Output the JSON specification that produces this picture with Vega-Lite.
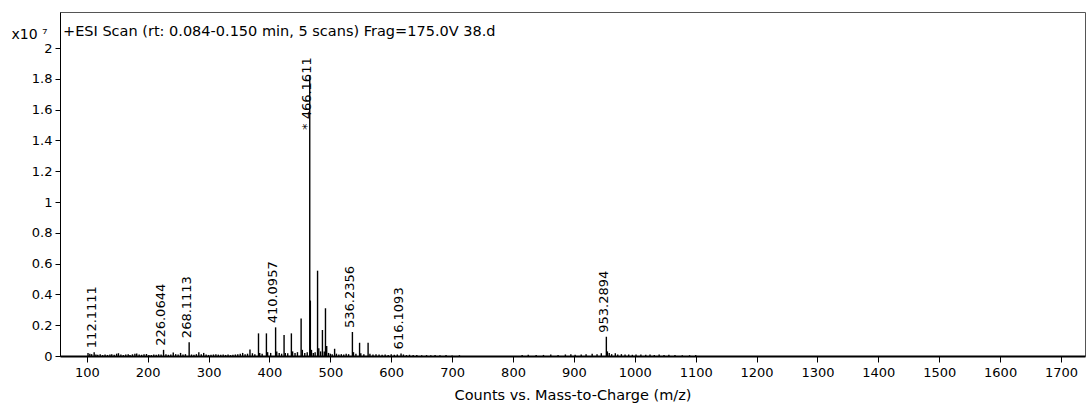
{
  "$schema": "https://vega.github.io/schema/vega-lite/v6.json",
  "width": 1025,
  "height": 344,
  "autosize": {"type": "none"},
  "padding": {"left": 60, "top": 12, "right": 1, "bottom": 51},
  "background": "white",
  "config": {
    "font": "DejaVu Sans",
    "view": {"stroke": "#555", "strokeWidth": 1},
    "axis": {"grid": false, "labelColor": "#000", "titleColor": "#000", "labelFont": "DejaVu Sans", "titleFont": "DejaVu Sans"}
  },
  "title": {
    "text": "+ESI Scan (rt: 0.084-0.150 min, 5 scans) Frag=175.0V 38.d",
    "anchor": "start",
    "frame": "group",
    "orient": "top",
    "offset": -38,
    "baseline": "alphabetic",
    "dx": 3,
    "font": "DejaVu Sans",
    "fontSize": 14.5,
    "fontWeight": "normal",
    "color": "#000"
  },
  "data": {
    "values": [
      {"mz": 102, "i": 0.02}, {"mz": 105, "i": 0.015}, {"mz": 108, "i": 0.012},
      {"mz": 112.1111, "i": 0.025, "lab": 1}, {"mz": 115, "i": 0.01}, {"mz": 118, "i": 0.008},
      {"mz": 122, "i": 0.012}, {"mz": 126, "i": 0.006}, {"mz": 130, "i": 0.01}, {"mz": 134, "i": 0.007},
      {"mz": 138, "i": 0.009}, {"mz": 141, "i": 0.012}, {"mz": 145, "i": 0.008}, {"mz": 149, "i": 0.015},
      {"mz": 152, "i": 0.018}, {"mz": 156, "i": 0.01}, {"mz": 160, "i": 0.006}, {"mz": 164, "i": 0.009},
      {"mz": 168, "i": 0.012}, {"mz": 171, "i": 0.007}, {"mz": 175, "i": 0.011}, {"mz": 179, "i": 0.014},
      {"mz": 182, "i": 0.016}, {"mz": 186, "i": 0.009}, {"mz": 190, "i": 0.008}, {"mz": 194, "i": 0.012},
      {"mz": 198, "i": 0.013}, {"mz": 202, "i": 0.007}, {"mz": 206, "i": 0.006}, {"mz": 210, "i": 0.009},
      {"mz": 214, "i": 0.008}, {"mz": 218, "i": 0.011}, {"mz": 222, "i": 0.01},
      {"mz": 226.0644, "i": 0.04, "lab": 1}, {"mz": 230, "i": 0.012}, {"mz": 234, "i": 0.008},
      {"mz": 238, "i": 0.01}, {"mz": 242, "i": 0.022}, {"mz": 246, "i": 0.012}, {"mz": 250, "i": 0.009},
      {"mz": 254, "i": 0.02}, {"mz": 258, "i": 0.01}, {"mz": 262, "i": 0.012},
      {"mz": 268.1113, "i": 0.09, "lab": 1}, {"mz": 272, "i": 0.01}, {"mz": 276, "i": 0.008},
      {"mz": 280, "i": 0.012}, {"mz": 284, "i": 0.025}, {"mz": 288, "i": 0.012}, {"mz": 292, "i": 0.02},
      {"mz": 296, "i": 0.009}, {"mz": 300, "i": 0.007}, {"mz": 304, "i": 0.008}, {"mz": 308, "i": 0.01},
      {"mz": 312, "i": 0.012}, {"mz": 316, "i": 0.009}, {"mz": 320, "i": 0.008}, {"mz": 324, "i": 0.01},
      {"mz": 328, "i": 0.007}, {"mz": 332, "i": 0.009}, {"mz": 336, "i": 0.006}, {"mz": 340, "i": 0.008},
      {"mz": 344, "i": 0.01}, {"mz": 348, "i": 0.012}, {"mz": 352, "i": 0.015}, {"mz": 356, "i": 0.02},
      {"mz": 360, "i": 0.012}, {"mz": 364, "i": 0.015}, {"mz": 368, "i": 0.042}, {"mz": 372, "i": 0.018},
      {"mz": 376, "i": 0.012}, {"mz": 382, "i": 0.147}, {"mz": 384, "i": 0.02}, {"mz": 388, "i": 0.015},
      {"mz": 395, "i": 0.147}, {"mz": 397, "i": 0.025}, {"mz": 402, "i": 0.02},
      {"mz": 410.0957, "i": 0.186, "lab": 1}, {"mz": 412, "i": 0.03}, {"mz": 416, "i": 0.02},
      {"mz": 420, "i": 0.015}, {"mz": 424, "i": 0.136}, {"mz": 426, "i": 0.02}, {"mz": 430, "i": 0.018},
      {"mz": 436, "i": 0.147}, {"mz": 438, "i": 0.03}, {"mz": 442, "i": 0.02}, {"mz": 446, "i": 0.025},
      {"mz": 452, "i": 0.244}, {"mz": 454, "i": 0.04}, {"mz": 458, "i": 0.02}, {"mz": 462, "i": 0.025},
      {"mz": 466.1611, "i": 1.825, "lab": 2}, {"mz": 467.16, "i": 0.36}, {"mz": 469, "i": 0.04},
      {"mz": 472, "i": 0.02}, {"mz": 475, "i": 0.025}, {"mz": 479, "i": 0.554}, {"mz": 481, "i": 0.05},
      {"mz": 484, "i": 0.03}, {"mz": 487, "i": 0.169}, {"mz": 490, "i": 0.03}, {"mz": 492, "i": 0.31},
      {"mz": 494, "i": 0.065}, {"mz": 497, "i": 0.02}, {"mz": 500, "i": 0.015}, {"mz": 503, "i": 0.012},
      {"mz": 507, "i": 0.047}, {"mz": 510, "i": 0.015}, {"mz": 514, "i": 0.01}, {"mz": 518, "i": 0.012},
      {"mz": 522, "i": 0.01}, {"mz": 526, "i": 0.015}, {"mz": 530, "i": 0.012},
      {"mz": 536.2356, "i": 0.156, "lab": 1}, {"mz": 538, "i": 0.025}, {"mz": 542, "i": 0.015},
      {"mz": 548, "i": 0.086}, {"mz": 550, "i": 0.018}, {"mz": 555, "i": 0.012}, {"mz": 562, "i": 0.086},
      {"mz": 565, "i": 0.015}, {"mz": 570, "i": 0.01}, {"mz": 575, "i": 0.012}, {"mz": 580, "i": 0.01},
      {"mz": 585, "i": 0.008}, {"mz": 590, "i": 0.01}, {"mz": 595, "i": 0.007}, {"mz": 600, "i": 0.012},
      {"mz": 605, "i": 0.008}, {"mz": 610, "i": 0.01}, {"mz": 616.1093, "i": 0.017, "lab": 1},
      {"mz": 620, "i": 0.01}, {"mz": 625, "i": 0.006}, {"mz": 630, "i": 0.008}, {"mz": 636, "i": 0.006},
      {"mz": 642, "i": 0.007}, {"mz": 650, "i": 0.005}, {"mz": 658, "i": 0.006}, {"mz": 665, "i": 0.005},
      {"mz": 672, "i": 0.006}, {"mz": 680, "i": 0.005}, {"mz": 690, "i": 0.006}, {"mz": 700, "i": 0.004},
      {"mz": 712, "i": 0.005}, {"mz": 815, "i": 0.006}, {"mz": 825, "i": 0.008}, {"mz": 838, "i": 0.006},
      {"mz": 850, "i": 0.007}, {"mz": 862, "i": 0.009}, {"mz": 874, "i": 0.007}, {"mz": 886, "i": 0.01},
      {"mz": 895, "i": 0.012}, {"mz": 902, "i": 0.008}, {"mz": 912, "i": 0.01}, {"mz": 920, "i": 0.012},
      {"mz": 930, "i": 0.015}, {"mz": 938, "i": 0.012}, {"mz": 945, "i": 0.018},
      {"mz": 953.2894, "i": 0.125, "lab": 1}, {"mz": 955, "i": 0.03}, {"mz": 958, "i": 0.02},
      {"mz": 962, "i": 0.012}, {"mz": 968, "i": 0.018}, {"mz": 972, "i": 0.01}, {"mz": 978, "i": 0.012},
      {"mz": 984, "i": 0.009}, {"mz": 990, "i": 0.01}, {"mz": 996, "i": 0.008}, {"mz": 1002, "i": 0.009},
      {"mz": 1010, "i": 0.01}, {"mz": 1018, "i": 0.008}, {"mz": 1025, "i": 0.01}, {"mz": 1032, "i": 0.007},
      {"mz": 1040, "i": 0.009}, {"mz": 1048, "i": 0.006}, {"mz": 1056, "i": 0.008}, {"mz": 1066, "i": 0.006},
      {"mz": 1078, "i": 0.005}, {"mz": 1090, "i": 0.005}, {"mz": 1100, "i": 0.006}
    ]
  },
  "encoding": {
    "x": {
      "field": "mz",
      "type": "quantitative",
      "scale": {"domain": [56, 1739.4], "nice": false, "zero": false},
      "axis": {
        "title": "Counts vs. Mass-to-Charge (m/z)",
        "titleFontSize": 14.5,
        "titleFontWeight": "normal",
        "titlePadding": 9,
        "values": [100, 200, 300, 400, 500, 600, 700, 800, 900, 1000, 1100, 1200, 1300, 1400, 1500, 1600, 1700],
        "format": "d",
        "labelFontSize": 13,
        "labelPadding": 4,
        "tickSize": 6,
        "tickColor": "#000",
        "domainColor": "#000",
        "domainWidth": 2
      }
    },
    "y": {
      "field": "i",
      "type": "quantitative",
      "scale": {"domain": [0, 2.234], "nice": false},
      "axis": {
        "title": "x10 ⁷",
        "titleAngle": 0,
        "titleAlign": "left",
        "titleBaseline": "alphabetic",
        "titleX": -49,
        "titleY": 26,
        "titleFontSize": 14,
        "titleFontWeight": "normal",
        "values": [0, 0.2, 0.4, 0.6, 0.8, 1, 1.2, 1.4, 1.6, 1.8, 2],
        "format": "~g",
        "labelFontSize": 13,
        "labelPadding": 3,
        "tickSize": 5,
        "tickColor": "#000",
        "domainColor": "#000"
      }
    }
  },
  "layer": [
    {
      "mark": {"type": "rule", "color": "#000", "strokeWidth": 1.4},
      "encoding": {"y2": {"datum": 0}}
    },
    {
      "transform": [{"filter": "datum.lab == 1"}],
      "mark": {"type": "text", "angle": 270, "align": "left", "baseline": "alphabetic", "dx": 4, "dy": 1.5, "fontSize": 13, "color": "#000"},
      "encoding": {"text": {"field": "mz", "type": "quantitative", "format": ".4f"}}
    },
    {
      "transform": [
        {"filter": "datum.lab == 2"},
        {"calculate": "'* ' + format(datum.mz, '.4f')", "as": "tag"}
      ],
      "mark": {"type": "text", "angle": 270, "align": "left", "baseline": "alphabetic", "dx": -55, "dy": 1.5, "fontSize": 13, "color": "#000"},
      "encoding": {"text": {"field": "tag", "type": "nominal"}}
    }
  ]
}
